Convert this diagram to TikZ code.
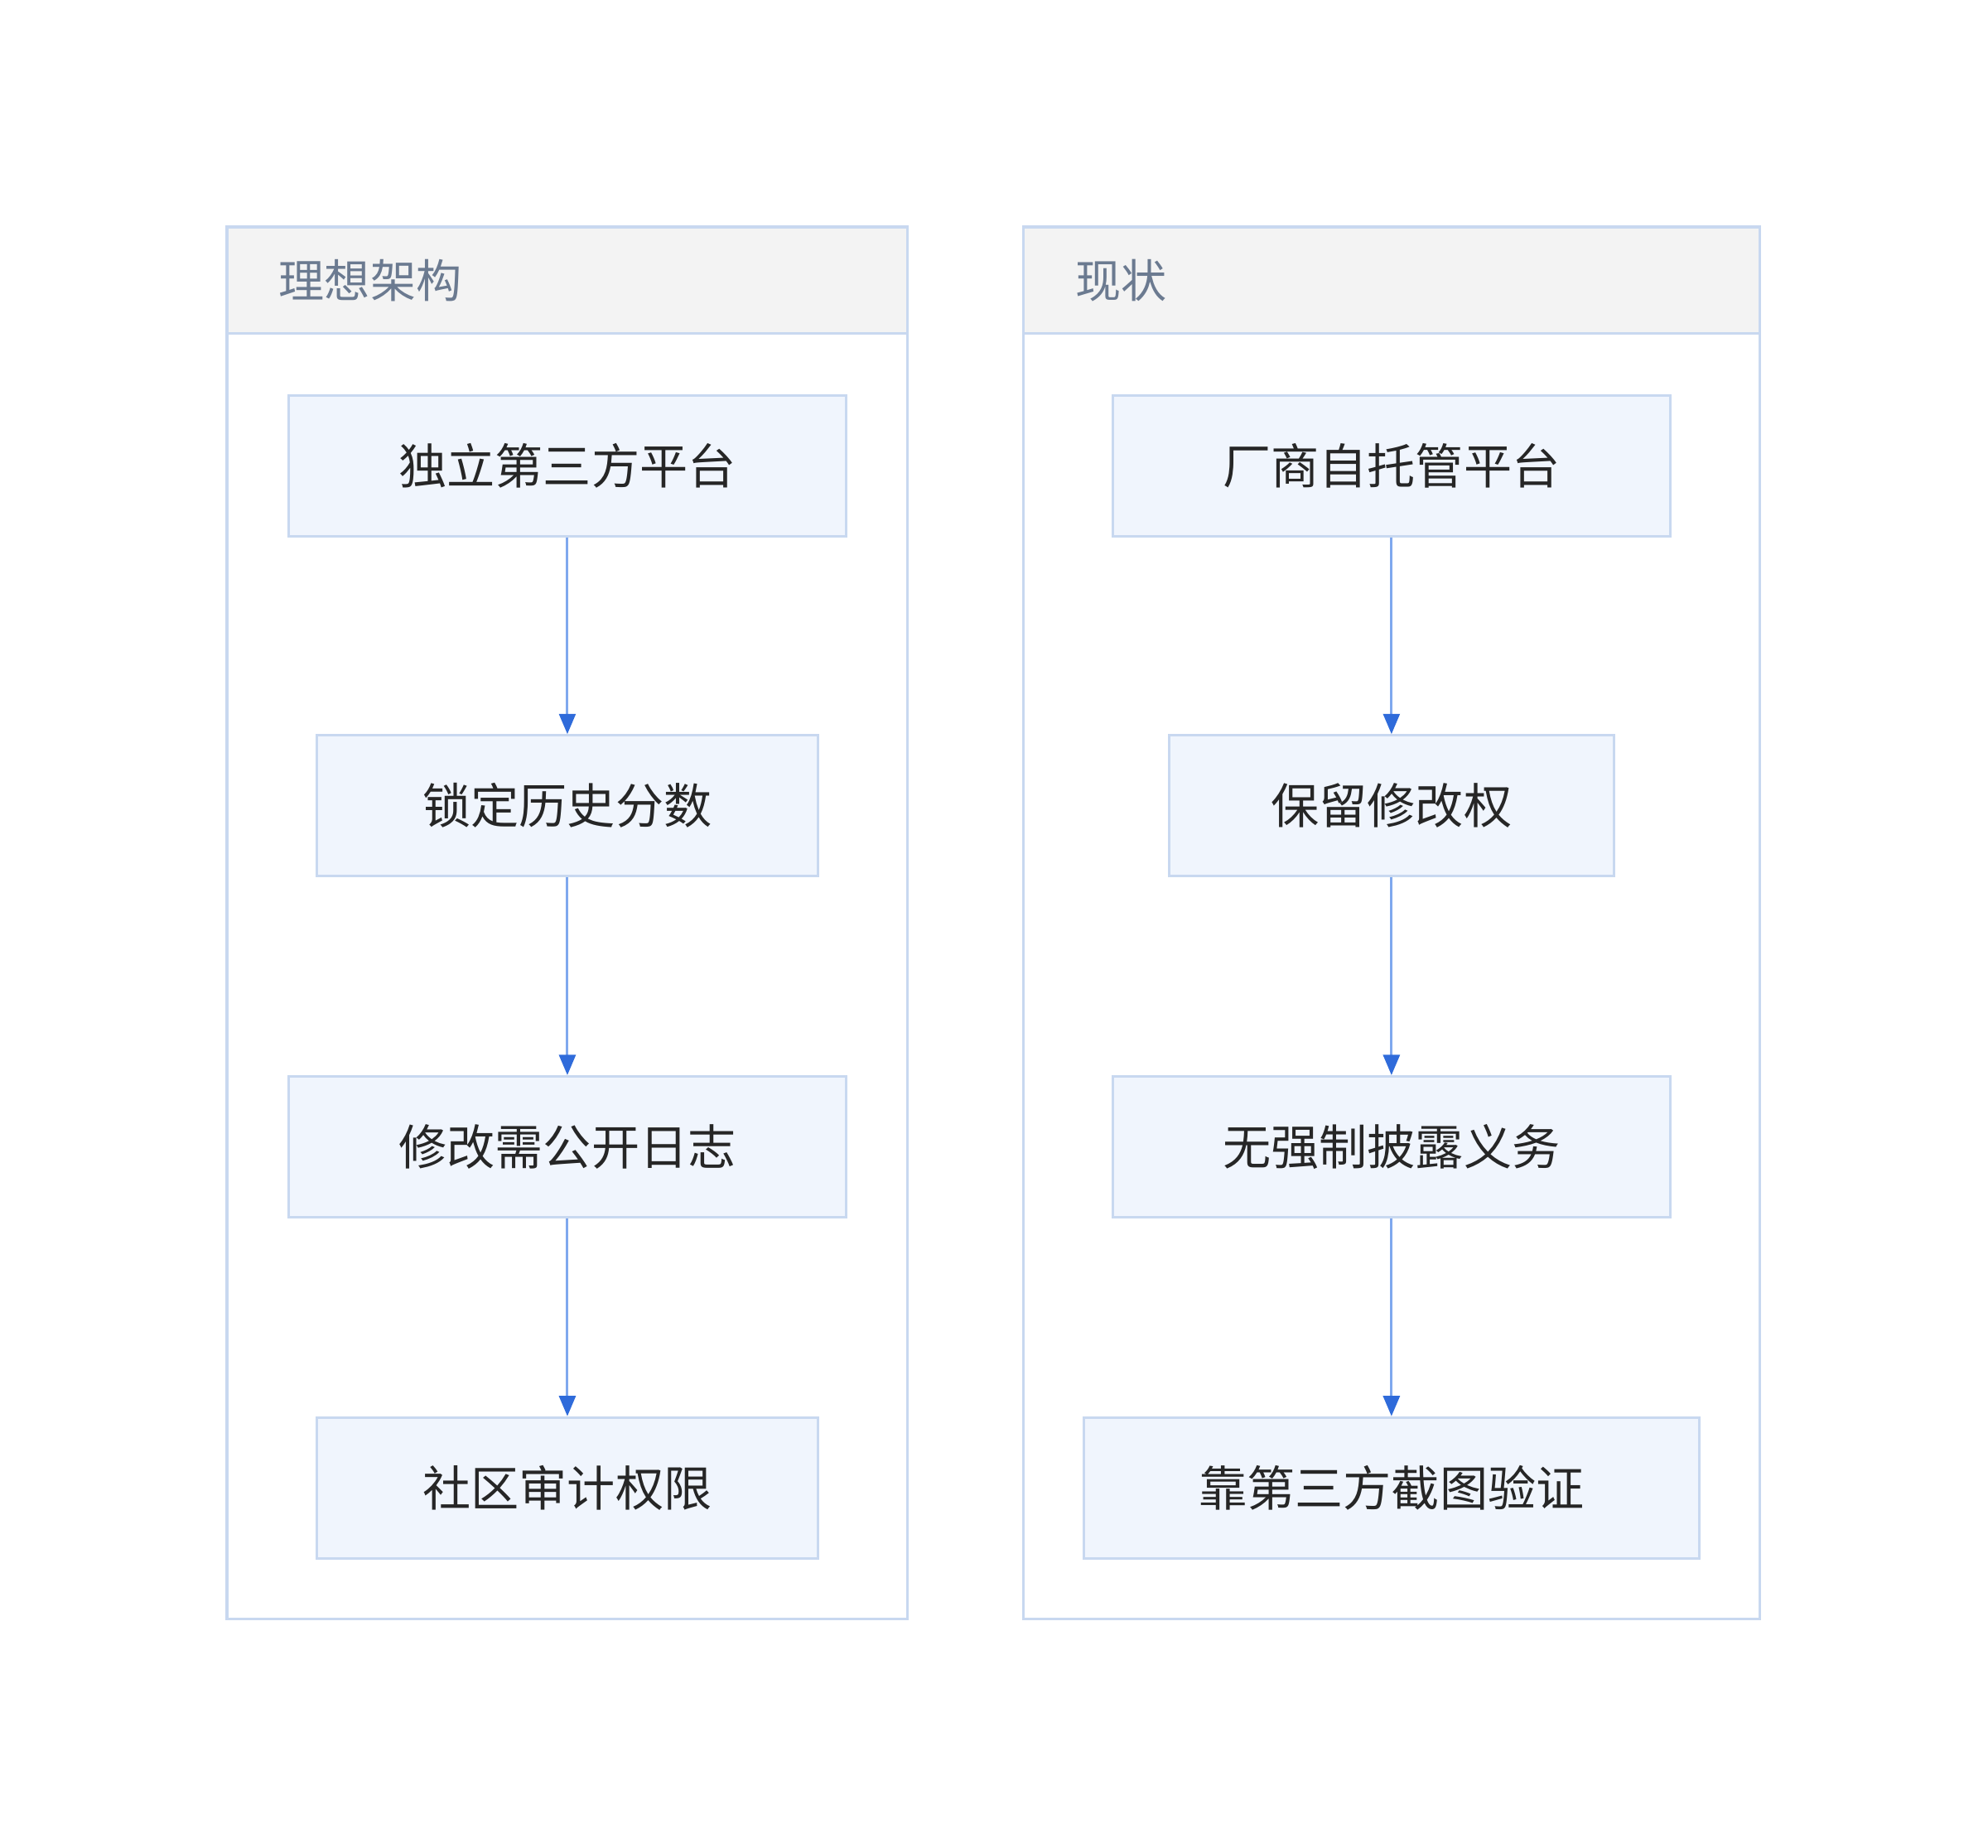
\documentclass[tikz,border=0pt]{standalone}
\usepackage{fontspec}
\setmainfont{Noto Sans CJK SC}
\usetikzlibrary{arrows.meta}
\definecolor{boxfill}{HTML}{F0F5FD}
\definecolor{boxline}{HTML}{C8D8F0}
\definecolor{headfill}{HTML}{F3F3F3}
\definecolor{edgeline}{HTML}{7FA8EE}
\definecolor{tipcol}{HTML}{2F6BDA}
\definecolor{titlecol}{HTML}{6B7A90}
\tikzset{
  stagebox/.style={draw=boxline, fill=boxfill, line width=1pt, minimum height=55.5pt,
    inner sep=0pt, font=\fontsize{19pt}{22pt}\selectfont, text=black!85},
  flow/.style={draw=edgeline, line width=1pt,
    -{Triangle[length=8pt,width=6.5pt,color=tipcol]}},
  group/.style={draw=boxline, line width=1pt},
  head/.style={draw=boxline, fill=headfill, line width=1pt},
}
\begin{document}
\begin{tikzpicture}[x=0.5pt,y=-0.5pt]
\useasboundingbox (0,0) rectangle (1568,1457);
% clusters
\draw[group] (179,179) rectangle (716,1277);
\draw[head] (179,179) rectangle (716,263);
\node[anchor=west, text=titlecol, font=\fontsize{18pt}{21pt}\selectfont] (tL) at (213,221) {理想架构};
\draw[group] (807,179) rectangle (1388,1277);
\draw[head] (807,179) rectangle (1388,263);
\node[anchor=west, text=titlecol, font=\fontsize{18pt}{21pt}\selectfont] (tR) at (841,221) {现状};
% left column
\node[stagebox, minimum width=220pt] (a1) at (447.5,367.5) {独立第三方平台};
\node[stagebox, minimum width=197.5pt] (a2) at (447.5,635.5) {锁定历史分数};
\node[stagebox, minimum width=220pt] (a3) at (447.5,904.5) {修改需公开日志};
\node[stagebox, minimum width=197.5pt] (a4) at (447.5,1173.5) {社区审计权限};
% right column
\node[stagebox, minimum width=220pt] (b1) at (1097.5,367.5) {厂商自托管平台};
\node[stagebox, minimum width=175.5pt] (b2) at (1097.5,635.5) {保留修改权};
\node[stagebox, minimum width=220pt] (b3) at (1097.5,904.5) {无强制披露义务};
\node[stagebox, minimum width=242.5pt] (b4) at (1097.5,1173.5) {靠第三方截图验证};
\foreach \u/\v in {a1/a2,a2/a3,a3/a4,b1/b2,b2/b3,b3/b4}
  \draw[flow] (\u) -- (\v);
\end{tikzpicture}
\end{document}
